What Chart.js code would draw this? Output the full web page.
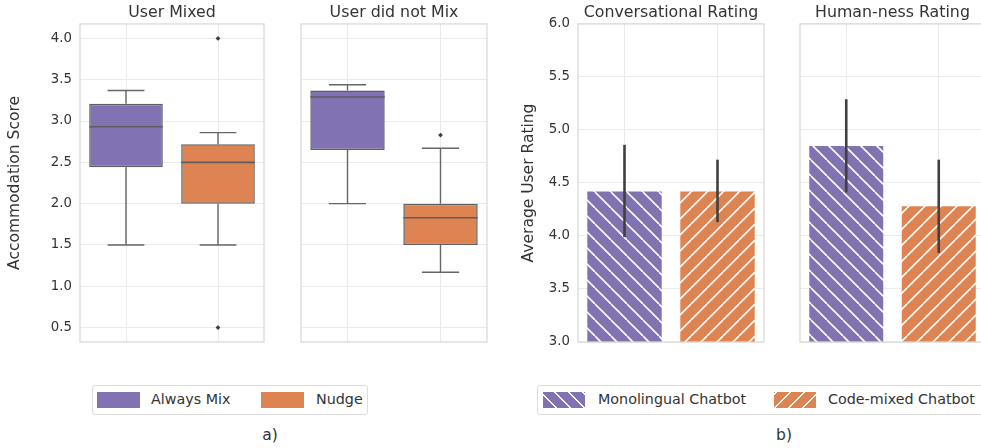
<!DOCTYPE html>
<html>
<head>
<meta charset="utf-8">
<script src="https://cdn.jsdelivr.net/npm/chart.js@4.4.1/dist/chart.umd.min.js"></script>
<style>
  body { margin: 0; width: 981px; height: 448px; overflow: hidden; background: #fff; position: relative;
         font-family: 'DejaVu Sans', sans-serif; color: #333; }
  canvas { position: absolute; top: 0; }
  .box { position: absolute; top: 385px; height: 30px; border: 1px solid #dddddd; border-radius: 3px; box-sizing: border-box; background: #fff; }
  .patch { position: absolute; top: 392px; width: 43px; height: 16px; }
  .lbl { position: absolute; top: 391px; font-size: 14.3px; line-height: 17px; white-space: nowrap; }
  .cap { position: absolute; top: 426px; font-size: 15.5px; line-height: 19px; width: 40px; text-align: center; }
</style>
</head>
<body>
<canvas id="mixed" width="270" height="360" style="left:0px"></canvas>
<canvas id="notMixed" width="196" height="360" style="left:296px"></canvas>
<canvas id="conv" width="254" height="360" style="left:515px"></canvas>
<canvas id="human" width="195" height="360" style="left:795px"></canvas>

<div class="box" style="left:92px;width:276px"></div>
<div class="patch" style="left:97px;background:#8172b3"></div>
<div class="lbl" style="left:151px">Always Mix</div>
<div class="patch" style="left:261px;background:#dd8452"></div>
<div class="lbl" style="left:316px">Nudge</div>
<div class="cap" style="left:250px">a)</div>

<div class="box" style="left:537px;width:460px"></div>
<div class="patch" style="left:543px;width:42px;background:repeating-linear-gradient(45deg,#8172b3 0 8.5px,#fff 8.5px 10px)"></div>
<div class="lbl" style="left:598px">Monolingual Chatbot</div>
<div class="patch" style="left:774px;width:42px;background:repeating-linear-gradient(-45deg,#dd8452 0 8.5px,#fff 8.5px 10px)"></div>
<div class="lbl" style="left:828px">Code-mixed Chatbot</div>
<div class="cap" style="left:764px">b)</div>

<script>
// box plot groups
const groups = ['Always Mix', 'Nudge'];

// User Mixed
const mixedLow = [1.5, 1.5];
const mixedQ1 = [2.44, 2.0];
const mixedMed = [2.93, 2.5];
const mixedQ3 = [3.21, 2.72];
const mixedHigh = [3.37, 2.86];
const mixedOutliers = [[], [4.0, 0.5]];

// User did not Mix
const notLow = [2.0, 1.17];
const notQ1 = [2.65, 1.5];
const notMed = [3.29, 1.83];
const notQ3 = [3.37, 2.0];
const notHigh = [3.44, 2.67];
const notOutliers = [[], [2.83]];

const scoreTicks = [0.5, 1.0, 1.5, 2.0, 2.5, 3.0, 3.5, 4.0];

// bar charts
const bots = ['Monolingual Chatbot', 'Code-mixed Chatbot'];
const convMean = [4.42, 4.42];
const convLow = [3.99, 4.13];
const convHigh = [4.86, 4.72];
const humanMean = [4.85, 4.28];
const humanLow = [4.41, 3.84];
const humanHigh = [5.29, 4.72];
const ratingTicks = [3.0, 3.5, 4.0, 4.5, 5.0, 5.5, 6.0];

const purple = '#8172b3';
const orange = '#dd8452';
const gridColor = '#ebebeb';
const textColor = '#333';
const font = "'DejaVu Sans', sans-serif";
Chart.defaults.font.family = font;
Chart.defaults.color = textColor;

function hatch(color, dir) {
    const s = 16;
    const c = document.createElement('canvas');
    c.width = s; c.height = s;
    const g = c.getContext('2d');
    g.fillStyle = color;
    g.fillRect(0, 0, s, s);
    g.strokeStyle = '#fff';
    g.lineWidth = 1.6;
    g.beginPath();
    for (const k of [-s, 0, s]) {
        if (dir === 'back') { g.moveTo(k, 0); g.lineTo(k + s, s); }
        else { g.moveTo(k + s, 0); g.lineTo(k, s); }
    }
    g.stroke();
    return g.createPattern(c, 'repeat');
}

// light frame around the plot area
const frame = {
    id: 'frame',
    afterDraw(chart) {
        const { ctx, chartArea: a } = chart;
        ctx.save();
        ctx.strokeStyle = '#d9d9d9';
        ctx.lineWidth = 1.25;
        ctx.strokeRect(a.left, a.top, a.right - a.left, a.bottom - a.top);
        ctx.restore();
    }
};

// whiskers and median for the box plots
const whiskers = {
    id: 'whiskers',
    afterDatasetsDraw(chart) {
        const st = chart.config._config.stats;
        if (!st) return;
        const { ctx, scales: { y } } = chart;
        const meta = chart.getDatasetMeta(0);
        ctx.save();
        ctx.lineWidth = 1.4;
        meta.data.forEach((bar, i) => {
            const cx = bar.x, hw = bar.width / 2, cw = hw / 2;
            ctx.strokeStyle = '#666';
            ctx.beginPath();
            ctx.moveTo(cx, y.getPixelForValue(st.q3[i]));
            ctx.lineTo(cx, y.getPixelForValue(st.high[i]));
            ctx.moveTo(cx - cw, y.getPixelForValue(st.high[i]));
            ctx.lineTo(cx + cw, y.getPixelForValue(st.high[i]));
            ctx.moveTo(cx, y.getPixelForValue(st.q1[i]));
            ctx.lineTo(cx, y.getPixelForValue(st.low[i]));
            ctx.moveTo(cx - cw, y.getPixelForValue(st.low[i]));
            ctx.lineTo(cx + cw, y.getPixelForValue(st.low[i]));
            ctx.stroke();
            ctx.strokeStyle = '#5e5e5e';
            ctx.lineWidth = 1.6;
            ctx.beginPath();
            ctx.moveTo(cx - hw, y.getPixelForValue(st.med[i]));
            ctx.lineTo(cx + hw, y.getPixelForValue(st.med[i]));
            ctx.stroke();
            ctx.lineWidth = 1.4;
        });
        ctx.restore();
    }
};

// error bars for the rating charts
const errorBars = {
    id: 'errorBars',
    afterDatasetsDraw(chart) {
        const err = chart.config._config.err;
        if (!err) return;
        const { ctx, scales: { y } } = chart;
        const meta = chart.getDatasetMeta(0);
        ctx.save();
        ctx.strokeStyle = '#404040';
        ctx.lineWidth = 2.6;
        meta.data.forEach((bar, i) => {
            ctx.beginPath();
            ctx.moveTo(bar.x, y.getPixelForValue(err.low[i]));
            ctx.lineTo(bar.x, y.getPixelForValue(err.high[i]));
            ctx.stroke();
        });
        ctx.restore();
    }
};

function xAxis() {
    return {
        ticks: { display: false },
        grid: { offset: false, color: gridColor, drawTicks: false },
        border: { display: false },
        afterFit: s => { s.height = 0; s.paddingLeft = 0; s.paddingRight = 0; }
    };
}

function yAxis(min, max, ticks, width, showLabels, title, titlePad) {
    return {
        min: min,
        max: max,
        afterBuildTicks: s => { s.ticks = ticks.map(v => ({ value: v })); },
        afterFit: s => { s.width = width; s.paddingTop = 0; s.paddingBottom = 0; },
        ticks: { display: showLabels, padding: 8, color: textColor, font: { size: 13.3 }, callback: v => v.toFixed(1) },
        grid: { color: gridColor, drawTicks: false },
        border: { display: false },
        title: { display: !!title, text: title, color: textColor, font: { size: 15.5 }, padding: { top: titlePad, bottom: 0 } }
    };
}

function titleOpts(text) {
    return { display: true, fullSize: false, text: text, color: textColor, font: { size: 15.8, weight: 'normal' }, padding: { top: 3, bottom: 2 } };
}

function boxChart(id, title, q1, q3, med, low, high, outliers, yWidth, padLeft, padRight, yTitle) {
    const pts = [];
    outliers.forEach((arr, i) => arr.forEach(v => pts.push({ x: groups[i], y: v })));
    return new Chart(document.getElementById(id), {
        type: 'bar',
        data: {
            labels: groups,
            datasets: [{
                data: q1.map((v, i) => [v, q3[i]]),
                backgroundColor: [purple, orange],
                borderColor: '#5e5e5e',
                borderWidth: 1.5,
                borderSkipped: false,
                barPercentage: 0.8,
                categoryPercentage: 1.0
            }, {
                type: 'scatter',
                data: pts,
                pointStyle: 'rectRot',
                radius: 2.4,
                backgroundColor: '#3d3d3d',
                borderColor: '#3d3d3d',
                borderWidth: 0
            }]
        },
        stats: { q1: q1, q3: q3, med: med, low: low, high: high },
        options: {
            responsive: false,
            animation: false,
            layout: { padding: { left: padLeft, right: padRight, top: 0, bottom: 18 } },
            scales: {
                x: xAxis(),
                y: yAxis(0.325, 4.175, scoreTicks, yWidth, !!yTitle, yTitle, 6)
            },
            plugins: { title: titleOpts(title), legend: { display: false }, tooltip: { enabled: false } }
        },
        plugins: [whiskers, frame]
    });
}

function barChart(id, title, mean, low, high, yWidth, padLeft, padRight, yTitle) {
    return new Chart(document.getElementById(id), {
        type: 'bar',
        data: {
            labels: bots,
            datasets: [{
                data: mean,
                backgroundColor: [hatch(purple, 'back'), hatch(orange, 'fwd')],
                borderWidth: 0,
                barPercentage: 0.8,
                categoryPercentage: 1.0
            }]
        },
        err: { low: low, high: high },
        options: {
            responsive: false,
            animation: false,
            layout: { padding: { left: padLeft, right: padRight, top: 0, bottom: 18 } },
            scales: {
                x: xAxis(),
                y: yAxis(3, 6, ratingTicks, yWidth, !!yTitle, yTitle, 5)
            },
            plugins: { title: titleOpts(title), legend: { display: false }, tooltip: { enabled: false } }
        },
        plugins: [errorBars, frame]
    });
}

boxChart('mixed', 'User Mixed', mixedQ1, mixedQ3, mixedMed, mixedLow, mixedHigh, mixedOutliers, 80, 0, 6, 'Accommodation Score');
boxChart('notMixed', 'User did not Mix', notQ1, notQ3, notMed, notLow, notHigh, notOutliers, 0, 5, 5, '');
barChart('conv', 'Conversational Rating', convMean, convLow, convHigh, 63, 0, 5, 'Average User Rating');
barChart('human', 'Human-ness Rating', humanMean, humanLow, humanHigh, 0, 5, 5, '');
</script>
</body>
</html>
